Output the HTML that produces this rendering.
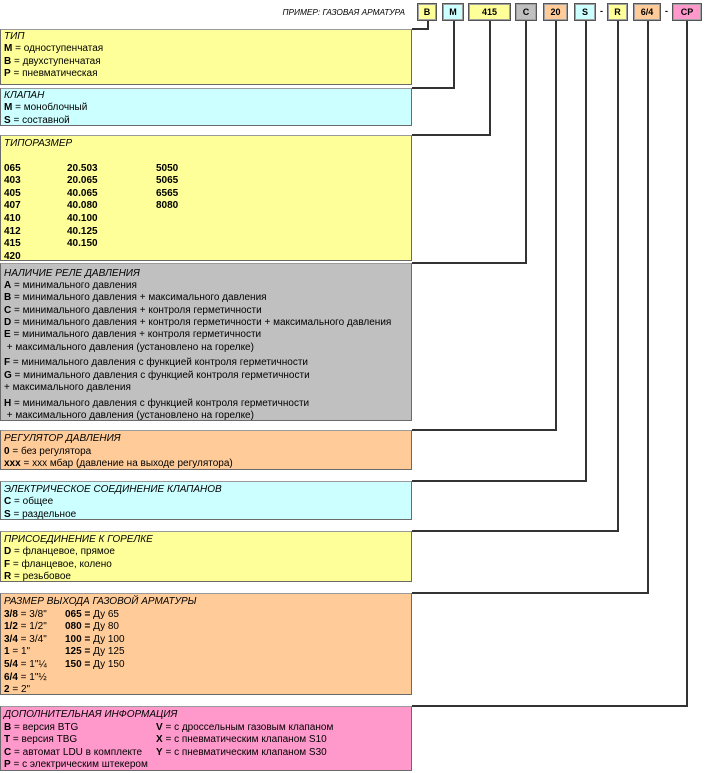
<!DOCTYPE html>
<html><head><meta charset="utf-8">
<style>
*{margin:0;padding:0;box-sizing:border-box}
body{width:706px;height:773px;background:#fff;position:relative;overflow:hidden;font-family:"Liberation Sans","Noto Sans CJK SC",sans-serif;font-size:10px;color:#000}
.box{position:absolute;left:0;width:412px;border:1px solid #6a6a6a;border-top-color:#9a9a9a;padding:1.5px 0 0 3px;line-height:12.6px;white-space:nowrap}
.t{font-style:italic}
.y{background:#ffff99}.c{background:#ccffff}.g{background:#c0c0c0}.o{background:#ffcc99}.p{background:#ff99cc}
.hb{position:absolute;top:3px;height:18px;border:1px solid #555;box-shadow:inset 0 0 0 1px #a0a0a0;font-weight:bold;font-size:9px;text-align:center;line-height:16px}
.v{position:absolute;width:2px;background:#333}
.h{position:absolute;height:2px;background:#333}
.c1{display:inline-block;width:63px}
.c2{display:inline-block;width:89px}
.r1{display:inline-block;width:61px}
.d1{display:inline-block;width:152px}
.gap{height:3.5px}
.dash{position:absolute;top:6px;font-size:9px;font-weight:bold}
</style></head><body>

<div style="position:absolute;right:301px;top:6px;font-size:8.3px;font-style:italic;line-height:12px;white-space:nowrap">ПРИМЕР: ГАЗОВАЯ АРМАТУРА</div>

<div class="hb y" style="left:417px;width:20px">B</div>
<div class="hb c" style="left:442px;width:22px">M</div>
<div class="hb y" style="left:468px;width:43px">415</div>
<div class="hb g" style="left:515px;width:22px">C</div>
<div class="hb o" style="left:543px;width:25px">20</div>
<div class="hb c" style="left:574px;width:22px">S</div>
<div class="dash" style="left:600px">-</div>
<div class="hb y" style="left:607px;width:21px">R</div>
<div class="hb o" style="left:633px;width:28px">6/4</div>
<div class="dash" style="left:665px">-</div>
<div class="hb p" style="left:672px;width:30px">CP</div>

<!-- connectors -->
<div class="v" style="left:427px;top:21px;height:9px"></div>
<div class="h" style="left:412px;top:28px;width:17px"></div>

<div class="v" style="left:453px;top:21px;height:68px"></div>
<div class="h" style="left:412px;top:87px;width:43px"></div>

<div class="v" style="left:489px;top:21px;height:115px"></div>
<div class="h" style="left:412px;top:134px;width:79px"></div>

<div class="v" style="left:525px;top:21px;height:243px"></div>
<div class="h" style="left:412px;top:262px;width:115px"></div>

<div class="v" style="left:555px;top:21px;height:410px"></div>
<div class="h" style="left:412px;top:429px;width:145px"></div>

<div class="v" style="left:585px;top:21px;height:461px"></div>
<div class="h" style="left:412px;top:480px;width:175px"></div>

<div class="v" style="left:617px;top:21px;height:511px"></div>
<div class="h" style="left:412px;top:530px;width:207px"></div>

<div class="v" style="left:647px;top:21px;height:573px"></div>
<div class="h" style="left:412px;top:592px;width:237px"></div>

<div class="v" style="left:686px;top:21px;height:686px"></div>
<div class="h" style="left:412px;top:705px;width:276px"></div>

<!-- boxes -->
<div class="box y" style="top:29px;height:56px;padding-top:0.5px">
<div class="t">ТИП</div>
<div><b>M</b> = одноступенчатая</div>
<div><b>B</b> = двухступенчатая</div>
<div><b>P</b> = пневматическая</div>
</div>

<div class="box c" style="top:88px;height:38px;padding-top:0.5px">
<div class="t">КЛАПАН</div>
<div><b>M</b> = моноблочный</div>
<div><b>S</b> = составной</div>
</div>

<div class="box y" style="top:135px;height:126px">
<div class="t">ТИПОРАЗМЕР</div>
<div>&nbsp;</div>
<div><b><span class="c1">065</span><span class="c2">20.503</span>5050</b></div>
<div><b><span class="c1">403</span><span class="c2">20.065</span>5065</b></div>
<div><b><span class="c1">405</span><span class="c2">40.065</span>6565</b></div>
<div><b><span class="c1">407</span><span class="c2">40.080</span>8080</b></div>
<div><b><span class="c1">410</span><span class="c2">40.100</span></b></div>
<div><b><span class="c1">412</span><span class="c2">40.125</span></b></div>
<div><b><span class="c1">415</span><span class="c2">40.150</span></b></div>
<div><b><span class="c1">420</span></b></div>
</div>

<div class="box g" style="top:263px;height:158px;padding-top:3.5px;line-height:12.35px">
<div class="t">НАЛИЧИЕ РЕЛЕ ДАВЛЕНИЯ</div>
<div><b>A</b> = минимального давления</div>
<div><b>B</b> = минимального давления + максимального давления</div>
<div><b>C</b> = минимального давления + контроля герметичности</div>
<div><b>D</b> = минимального давления + контроля герметичности + максимального давления</div>
<div><b>E</b> = минимального давления + контроля герметичности</div>
<div>&nbsp;+ максимального давления (установлено на горелке)</div>
<div class="gap"></div>
<div><b>F</b> = минимального давления с функцией контроля герметичности</div>
<div><b>G</b> = минимального давления с функцией контроля герметичности</div>
<div>+ максимального давления</div>
<div class="gap"></div>
<div><b>H</b> = минимального давления с функцией контроля герметичности</div>
<div>&nbsp;+ максимального давления (установлено на горелке)</div>
</div>

<div class="box o" style="top:430px;height:40px;padding-top:2px">
<div class="t">РЕГУЛЯТОР ДАВЛЕНИЯ</div>
<div><b>0</b> = без регулятора</div>
<div><b>xxx</b> = xxx мбар (давление на выходе регулятора)</div>
</div>

<div class="box c" style="top:481px;height:39px">
<div class="t">ЭЛЕКТРИЧЕСКОЕ СОЕДИНЕНИЕ КЛАПАНОВ</div>
<div><b>C</b> = общее</div>
<div><b>S</b> = раздельное</div>
</div>

<div class="box y" style="top:531px;height:51px">
<div class="t">ПРИСОЕДИНЕНИЕ К ГОРЕЛКЕ</div>
<div><b>D</b> = фланцевое, прямое</div>
<div><b>F</b> = фланцевое, колено</div>
<div><b>R</b> = резьбовое</div>
</div>

<div class="box o" style="top:593px;height:102px;padding-top:2px">
<div class="t">РАЗМЕР ВЫХОДА ГАЗОВОЙ АРМАТУРЫ</div>
<div><span class="r1"><b>3/8</b> = 3/8"</span><b>065 =</b> Ду 65</div>
<div><span class="r1"><b>1/2</b> = 1/2"</span><b>080 =</b> Ду 80</div>
<div><span class="r1"><b>3/4</b> = 3/4"</span><b>100 =</b> Ду 100</div>
<div><span class="r1"><b>1</b> = 1"</span><b>125 =</b> Ду 125</div>
<div><span class="r1"><b>5/4</b> = 1"¼</span><b>150 =</b> Ду 150</div>
<div><span class="r1"><b>6/4</b> = 1"½</span></div>
<div><span class="r1"><b>2</b> = 2"</span></div>
</div>

<div class="box p" style="top:706px;height:65px;padding-top:2px">
<div class="t">ДОПОЛНИТЕЛЬНАЯ ИНФОРМАЦИЯ</div>
<div><span class="d1"><b>B</b> = версия BTG</span><b>V</b> = с дроссельным газовым клапаном</div>
<div><span class="d1"><b>T</b> = версия TBG</span><b>X</b> = с пневматическим клапаном S10</div>
<div><span class="d1"><b>C</b> = автомат LDU в комплекте</span><b>Y</b> = с пневматическим клапаном S30</div>
<div><b>P</b> = с электрическим штекером</div>
</div>

</body></html>
